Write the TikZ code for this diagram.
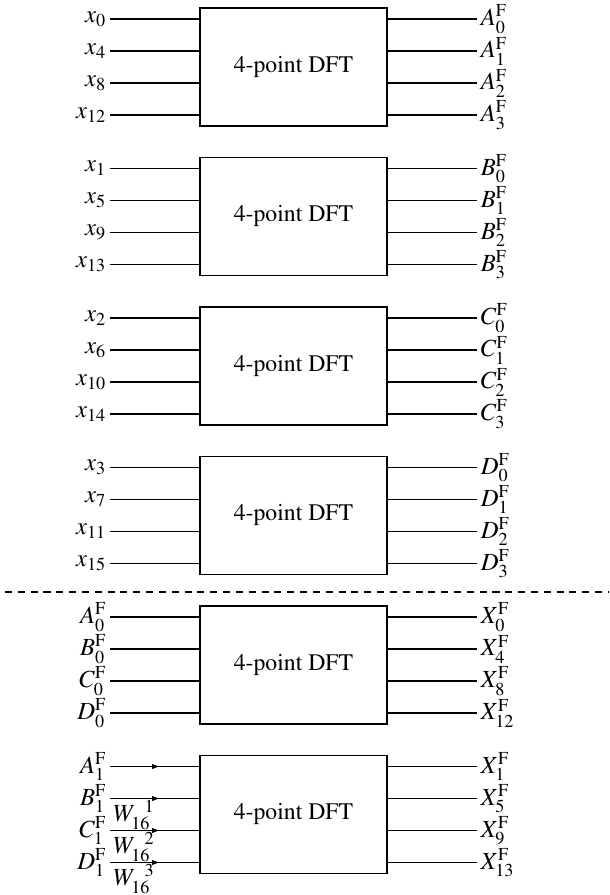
\documentclass[tikz,border=0pt]{standalone}
\usepackage[T1]{fontenc}
\usepackage{mathptmx}
\usetikzlibrary{arrows.meta,decorations.markings,positioning}

\begin{document}
\begin{tikzpicture}[
  every node/.style={font=\fontsize{13.5}{15}\selectfont},
  dft/.style={draw, line width=0.7pt, minimum width=3.74cm, minimum height=2.36cm,
              inner sep=0pt},
  lbl/.style={inner sep=2pt, font=\fontsize{14}{16}\selectfont},
  wire/.style={line width=0.6pt},
  mid arrow/.style={wire, postaction={decorate}, decoration={markings,
    mark=at position 0.56 with {\arrow{Latex[length=4.5pt,width=3pt]}}}},
  >=Latex]
  \useasboundingbox (0,0) rectangle (12.18,-17.9);
  % the six 4-point blocks
  \foreach \k in {1,...,6}
    \node[dft] (dft\k) at (5.87,{1.65-2.99*\k}) {4-point DFT};
  % labels on the inputs and outputs
  \foreach \k/\i/\l/\r in {
      1/1/x_0/A_0, 1/2/x_4/A_1, 1/3/x_8/A_2, 1/4/x_{12}/A_3,
      2/1/x_1/B_0, 2/2/x_5/B_1, 2/3/x_9/B_2, 2/4/x_{13}/B_3,
      3/1/x_2/C_0, 3/2/x_6/C_1, 3/3/x_{10}/C_2, 3/4/x_{14}/C_3,
      4/1/x_3/D_0, 4/2/x_7/D_1, 4/3/x_{11}/D_2, 4/4/x_{15}/D_3,
      5/1/A_0^{\mathrm{F}}/X_0, 5/2/B_0^{\mathrm{F}}/X_4,
      5/3/C_0^{\mathrm{F}}/X_8, 5/4/D_0^{\mathrm{F}}/X_{12},
      6/1/A_1^{\mathrm{F}}/X_1, 6/2/B_1^{\mathrm{F}}/X_5,
      6/3/C_1^{\mathrm{F}}/X_9, 6/4/D_1^{\mathrm{F}}/X_{13}} {
    \node[lbl,anchor=east] (in\k\i) at (2.2,{3.25-2.99*\k-0.64*\i}) {$\l$};
    \node[lbl,anchor=west] (out\k\i) at (9.54,{3.25-2.99*\k-0.64*\i}) {$\r^{\mathrm{F}}$};
    \draw[wire] (dft\k.east |- out\k\i.west) -- (out\k\i.west);
  }
  \foreach \k in {1,...,5}
    \foreach \i in {1,...,4}
      \draw[wire] (in\k\i.east) -- (in\k\i.east -| dft\k.west);
  \foreach \i in {1,...,4}
    \draw[mid arrow] (in6\i.east) -- (in6\i.east -| dft6.west);
  % twiddle factors
  \foreach \i/\n in {2/1,3/2,4/3}
    \node[lbl,anchor=north,inner sep=0.5pt] (w\i) at ([xshift=0.48cm,yshift=-0.02cm]in6\i.east)
      {$W_{16}^{\phantom{1}\n}$};
  % separator
  \coordinate (sepL) at (0.1,-11.84);
  \coordinate (sepR) at (12.18,-11.84);
  \draw[wire,dash pattern=on 4pt off 3.3pt] (sepL) -- (sepR);
\end{tikzpicture}
\end{document}
